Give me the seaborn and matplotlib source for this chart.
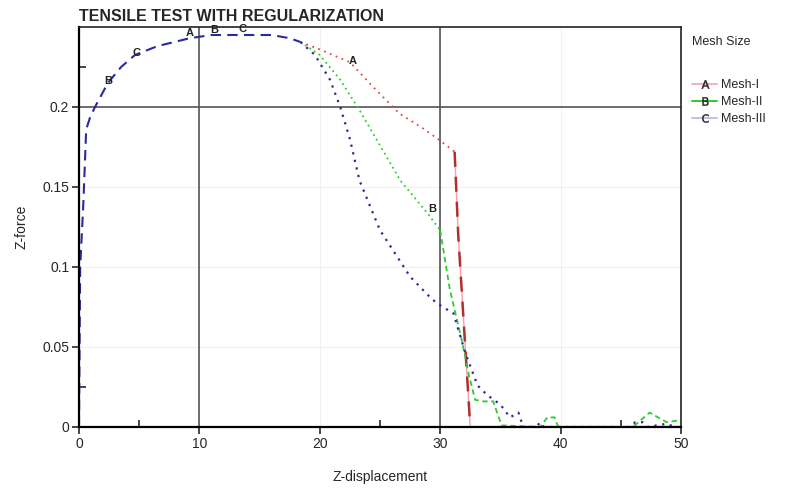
import matplotlib
matplotlib.use("Agg")
import matplotlib.pyplot as plt
import seaborn as sns
import pandas as pd
from matplotlib.lines import Line2D
from matplotlib.ticker import MultipleLocator, FixedLocator

# shared elastic / hardening branch (all meshes coincide)
shared_x = [0, 0.05, 0.1, 0.35, 0.6, 0.9, 1.33, 2.4, 3.5, 4.65, 6.5, 9.2, 11, 14, 16, 17.5, 18.4]
shared_y = [0, 0.05, 0.1, 0.1375, 0.186, 0.193, 0.2, 0.215, 0.225, 0.2325, 0.238, 0.243, 0.245, 0.245, 0.245, 0.243, 0.2406]

mesh1_x = [18.4, 20, 22.5, 24.5, 26.6, 28.5, 30, 31.2, 31.5, 32.0, 32.5, 40, 50]
mesh1_y = [0.2406, 0.236, 0.228, 0.212, 0.196, 0.187, 0.179, 0.172, 0.12, 0.06, 0, 0, 0]

mesh2_x = [18.4, 20, 21.7, 23.3, 25, 26.7, 28.9, 30, 30.8, 31.8, 32.4, 32.9, 33.6, 34.4, 35.1,
           38.3, 38.9, 39.5, 39.8, 46, 47.4, 48.8, 49.7, 50]
mesh2_y = [0.2406, 0.2325, 0.217, 0.198, 0.176, 0.154, 0.134, 0.123, 0.086, 0.054, 0.032, 0.017, 0.016, 0.016, 0.001,
           0, 0.006, 0.006, 0, 0, 0.009, 0.003, 0.004, 0.003]

mesh3_x = [18.4, 19.6, 20.85, 21.7, 22.5, 23.3, 25, 27.5, 29.3, 30, 31.1, 32.1, 33.1, 33.9, 35, 35.8, 36.5, 36.9,
           38, 38.3, 38.6, 45.8, 46.2, 46.8, 47.2, 48.8, 49.5, 50]
mesh3_y = [0.2406, 0.2325, 0.217, 0.2, 0.18, 0.154, 0.123, 0.094, 0.08, 0.076, 0.071, 0.046, 0.026, 0.02, 0.014, 0.006, 0.009, 0,
           0, 0.003, 0, 0, 0.003, 0.003, 0, 0.002, 0, 0]

series_names = ["Mesh-I", "Mesh-II", "Mesh-III"]
series_letters = ["A", "B", "C"]

# letter tags written along the curves
tag_text = ["A", "A", "B", "B", "B", "C", "C"]
tag_x = [9.2, 22.7, 2.4, 11.2, 29.3, 4.75, 13.6]
tag_y = [0.2465, 0.229, 0.216, 0.248, 0.136, 0.2335, 0.249]

sns.set_theme(style="white")
plt.rcParams["font.family"] = ["Liberation Sans", "DejaVu Sans"]

fig = plt.figure(figsize=(7.85, 4.9), dpi=100)
ax = fig.add_axes([0.1006, 0.1286, 0.7669, 0.8163])

df_shared = pd.DataFrame({"x": shared_x, "y": shared_y})
df1 = pd.DataFrame({"x": mesh1_x, "y": mesh1_y})
df2 = pd.DataFrame({"x": mesh2_x, "y": mesh2_y})
df3 = pd.DataFrame({"x": mesh3_x, "y": mesh3_y})

red, dark_red, green, blue = "#e04848", "#b03030", "#2ecc2e", "#2a2aa0"

# grid: faint at every major tick, darker reference lines
ax.grid(True, which="major", color="#f0f0f0", lw=0.8)
for xv in (10, 30):
    ax.axvline(xv, color="#555555", lw=1.2, zorder=1)
ax.axhline(0.2, color="#555555", lw=1.2, zorder=1)

# Mesh-I
sns.lineplot(data=df1.iloc[:8], x="x", y="y", ax=ax, color=red, lw=1.3, linestyle=(0, (1, 2.5)), sort=False)
sns.lineplot(data=df1.iloc[7:11], x="x", y="y", ax=ax, color="#f4a0a8", lw=1.0, sort=False)
sns.lineplot(data=df1.iloc[7:11], x="x", y="y", ax=ax, color=dark_red, lw=1.8, linestyle=(0, (6, 4)), sort=False)
sns.lineplot(data=df1.iloc[10:], x="x", y="y", ax=ax, color=dark_red, lw=1.5, sort=False)
# Mesh-II
sns.lineplot(data=df2.iloc[:8], x="x", y="y", ax=ax, color=green, lw=1.3, linestyle=(0, (1, 2)), sort=False)
sns.lineplot(data=df2.iloc[7:], x="x", y="y", ax=ax, color=green, lw=1.3, linestyle=(0, (3, 2)), sort=False)
# Mesh-III
sns.lineplot(data=df3, x="x", y="y", ax=ax, color=blue, lw=1.6, linestyle=(0, (1, 2.5)), sort=False)
# common rising branch
sns.lineplot(data=df_shared, x="x", y="y", ax=ax, color=blue, lw=1.5, linestyle=(0, (5, 3)), sort=False)

for t, tx, ty in zip(tag_text, tag_x, tag_y):
    ax.text(tx, ty, t, fontsize=8, fontweight="bold", ha="center", va="center", color="#222222")

ax.set_xlim(0, 50)
ax.set_ylim(0, 0.25)
ax.xaxis.set_major_locator(MultipleLocator(10))
ax.xaxis.set_minor_locator(FixedLocator([5, 25, 45]))
ax.yaxis.set_minor_locator(FixedLocator([0.025, 0.225]))
ax.set_yticks([0, 0.05, 0.1, 0.15, 0.2])
ax.set_yticklabels(["0", "0.05", "0.1", "0.15", "0.2"])
ax.tick_params(which="major", direction="out", length=5, width=1.2, labelsize=10, pad=2, bottom=True, left=True)
ax.tick_params(which="minor", direction="in", length=5, width=1.2, bottom=True, left=True)

for side in ("left", "bottom"):
    ax.spines[side].set_linewidth(1.6)
    ax.spines[side].set_color("black")
for side in ("top", "right"):
    ax.spines[side].set_linewidth(1.2)
    ax.spines[side].set_color("#222222")

ax.set_xlabel("Z-displacement", fontsize=10, labelpad=14)
ax.set_ylabel("Z-force", fontsize=10, labelpad=10)
ax.set_title("TENSILE TEST WITH REGULARIZATION", fontsize=11.5, fontweight="bold", loc="left", pad=4, x=0.0)

fig.text(692 / 785, 1 - 42 / 490, "Mesh Size", fontsize=9, va="center", ha="left")

handle_colors = ["#f6b0b8", green, "#c0c0f0"]
handles = [
    Line2D([0], [0], color=c, lw=1.4, marker=r"$\mathrm{%s}$" % l, markersize=6,
           markerfacecolor="#222222", markeredgecolor="#222222", markeredgewidth=0.3)
    for c, l in zip(handle_colors, series_letters)
]
leg = ax.legend(handles, series_names, loc="upper left", bbox_to_anchor=(692 / 785, 1 - 79 / 490),
                bbox_transform=fig.transFigure, frameon=False, fontsize=9, handlelength=2.0,
                handletextpad=0.3, labelspacing=0.4, borderaxespad=0.0, borderpad=0.0)

fig.savefig("out.png", dpi=100)
